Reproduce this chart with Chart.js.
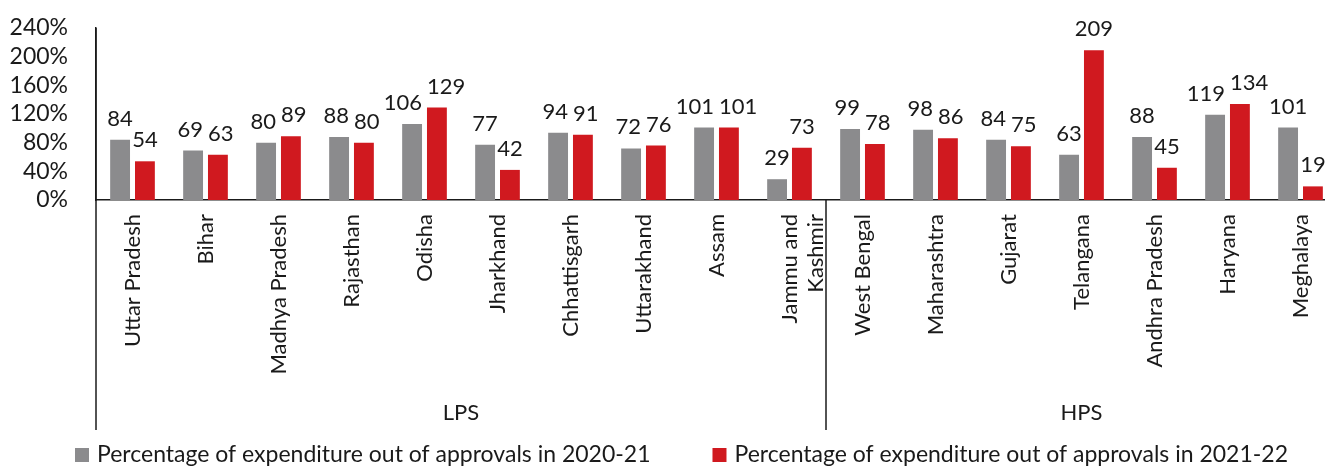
<!DOCTYPE html>
<html>
<head>
<meta charset="utf-8">
<script src="https://cdn.jsdelivr.net/npm/chart.js@4"></script>
<style>
	body { margin: 0; overflow: hidden; background: #fff; }
	#wrap { width: 1337px; height: 467px; position: relative; }
</style>
</head>
<body>
<div id="wrap"><canvas id="myChart"></canvas></div>
<script>
var states = ['Uttar Pradesh', 'Bihar', 'Madhya Pradesh', 'Rajasthan', 'Odisha', 'Jharkhand', 'Chhattisgarh', 'Uttarakhand', 'Assam', ['Jammu and', 'Kashmir'],
	'West Bengal', 'Maharashtra', 'Gujarat', 'Telangana', 'Andhra Pradesh', 'Haryana', 'Meghalaya']
var spent2021 = [84, 69, 80, 88, 106, 77, 94, 72, 101, 29, 99, 98, 84, 63, 88, 119, 101]
var spent2122 = [54, 63, 89, 80, 129, 42, 91, 76, 101, 73, 78, 86, 75, 209, 45, 134, 19]
var groups = ['LPS', 'HPS']
var groupSizes = [10, 7]
var yTicks = [0, 40, 80, 120, 160, 200, 240]

var grey = '#8b8b8d'
var red = '#d0191f'
var ink = '#1a1a1a'
var fontName = 'Lato'

// value labels over each bar, pushed apart when a pair would collide
var barLabels = {
	id: 'barLabels',
	afterDatasetsDraw: function(chart) {
		var c = chart.ctx
		c.save()
		c.font = '22px ' + fontName
		c.fillStyle = ink
		c.textAlign = 'center'
		c.textBaseline = 'alphabetic'
		var a = chart.getDatasetMeta(0).data
		var b = chart.getDatasetMeta(1).data
		var d0 = chart.data.datasets[0].data
		var d1 = chart.data.datasets[1].data
		a.forEach(function(bar, j) {
			var t0 = String(d0[j]), t1 = String(d1[j])
			var x0 = bar.x, x1 = b[j].x
			var y0 = bar.y - 14, y1 = b[j].y - 14
			if (Math.abs(y0 - y1) < 18) {
				var need = (c.measureText(t0).width + c.measureText(t1).width) / 2 + 5
				var have = x1 - x0
				if (need > have) {
					x0 -= (need - have) / 2
					x1 += (need - have) / 2
				}
			}
			c.fillText(t0, x0, y0)
			c.fillText(t1, x1, y1)
		})
		c.restore()
	}
}

// LPS / HPS brackets under the category labels, plus the legend
var groupAxis = {
	id: 'groupAxis',
	afterDraw: function(chart) {
		var c = chart.ctx
		var x = chart.scales.x
		var y0 = chart.chartArea.top
		var base = chart.chartArea.bottom
		var bottom = x.bottom
		var step = x.getPixelForValue(1) - x.getPixelForValue(0)
		c.save()
		c.strokeStyle = ink
		c.lineWidth = 1.5
		c.beginPath()
		c.moveTo(x.left, y0)
		c.lineTo(x.left, bottom)
		c.stroke()
		c.font = '22px ' + fontName
		c.fillStyle = ink
		c.textAlign = 'center'
		c.textBaseline = 'middle'
		var start = 0
		groups.forEach(function(g, k) {
			var end = start + groupSizes[k] - 1
			var mid = (x.getPixelForValue(start) + x.getPixelForValue(end)) / 2
			c.fillText(g, mid, bottom - 17)
			if (k > 0) {
				var sx = x.getPixelForValue(start) - step / 2
				c.beginPath()
				c.moveTo(sx, base)
				c.lineTo(sx, bottom)
				c.stroke()
			}
			start = end + 1
		})

		// legend
		c.font = '23px ' + fontName
		c.textAlign = 'left'
		var lx = x.left - 21
		var ly = bottom + 25
		chart.data.datasets.forEach(function(ds) {
			c.fillStyle = ds.backgroundColor
			c.fillRect(lx, ly - 7, 14, 14)
			c.fillStyle = ink
			c.fillText(ds.label, lx + 22, ly)
			lx += 22 + c.measureText(ds.label).width + 62
		})
		c.restore()
	}
}

var ctx = document.getElementById('myChart')
var chart = new Chart(ctx, {
	type: 'bar',
	data: {
		labels: states,
		datasets: [{
			label: 'Percentage of expenditure out of approvals in 2020-21',
			data: spent2021,
			backgroundColor: grey,
			categoryPercentage: 0.68,
			barPercentage: 0.8,
		}, {
			label: 'Percentage of expenditure out of approvals in 2021-22',
			data: spent2122,
			backgroundColor: red,
			categoryPercentage: 0.68,
			barPercentage: 0.8,
		}]
	},
	options: {
		responsive: true,
		maintainAspectRatio: false,
		animation: false,
		layout: { padding: { top: 28, left: 0, right: 0, bottom: 37 } },
		plugins: {
			tooltip: { enabled: false },
			legend: { display: false }
		},
		scales: {
			x: {
				grid: { display: false },
				border: { display: true, color: ink, width: 1.5 },
				ticks: {
					font: { family: fontName, size: 22 },
					color: ink,
					minRotation: 90,
					maxRotation: 90,
					autoSkip: false,
					padding: 6,
				},
				afterFit: function(scale) {
					scale.height = 230
					scale.paddingTop = 0
					scale.paddingBottom = 0
				}
			},
			y: {
				min: 0,
				max: 240,
				grid: { display: false },
				border: { display: true, color: ink, width: 1.5 },
				afterBuildTicks: function(scale) {
					scale.ticks = yTicks.map(function(v) { return { value: v } })
				},
				ticks: {
					font: { family: fontName, size: 23 },
					color: ink,
					padding: 20,
					autoSkip: false,
					callback: function(v) { return v + '%' }
				},
				afterFit: function(scale) {
					scale.width = 96
					scale.paddingTop = 0
					scale.paddingBottom = 0
				}
			}
		}
	},
	plugins: [barLabels, groupAxis]
})
</script>
</body>
</html>
